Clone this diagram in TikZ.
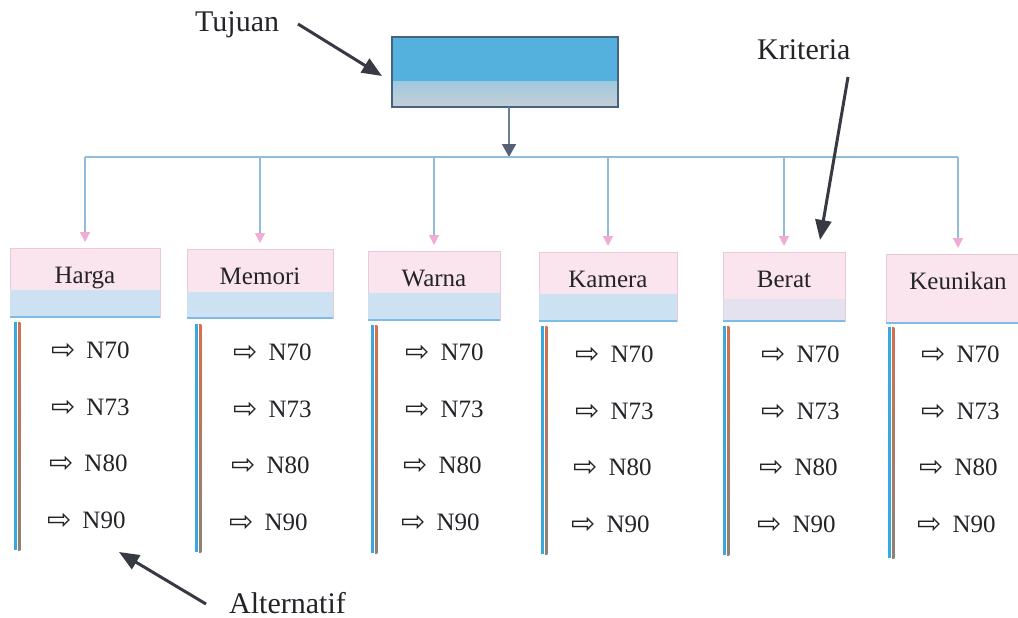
\documentclass[tikz,border=0pt]{standalone}
\usepackage{fontspec}
\setmainfont{Liberation Serif}
\newfontfamily\arrowfont{DejaVu Sans}
\usetikzlibrary{arrows.meta,calc}

\definecolor{goalblue}{RGB}{84,176,220}
\definecolor{goallowA}{RGB}{160,200,222}
\definecolor{goallowB}{RGB}{198,208,214}
\definecolor{goalframe}{RGB}{70,100,130}
\definecolor{critpink}{RGB}{250,228,238}
\definecolor{critedge}{RGB}{236,200,220}
\definecolor{critband}{RGB}{204,225,242}
\definecolor{critline}{RGB}{125,188,230}
\definecolor{busline}{RGB}{145,188,220}
\definecolor{droptip}{RGB}{240,172,214}
\definecolor{stemline}{RGB}{105,128,152}
\definecolor{stemtip}{RGB}{85,98,118}
\definecolor{barblue}{RGB}{58,168,224}
\definecolor{barbrown}{RGB}{140,130,118}
\definecolor{barrust}{RGB}{212,112,78}
\definecolor{inkgrey}{RGB}{55,58,66}
\definecolor{textink}{RGB}{35,35,40}

\newcommand\rarrowglyph{{\arrowfont\fontsize{29}{29}\selectfont\raisebox{-1pt}{⇨}}}

\begin{document}
\begin{tikzpicture}[x=1pt,y=-1pt,
  goalbox/.style={draw=goalframe,line width=1.2pt,fill=goalblue,inner sep=0pt,outer sep=0pt},
  critbox/.style={draw=critedge,line width=0.8pt,fill=critpink,inner sep=0pt,outer sep=0pt},
  critlabel/.style={text=textink,font=\fontsize{25}{29}\selectfont,inner sep=0pt},
  item/.style={text=textink,font=\fontsize{25}{29}\selectfont,inner sep=0pt,anchor=base west},
  note/.style={text=textink,font=\fontsize{30}{34}\selectfont,inner sep=0pt,anchor=base west},
  pointer/.style={draw=inkgrey,line width=3pt,-{Triangle[length=20pt,width=16pt]}},
  stem/.style={draw=stemline,line width=1.8pt,-{Triangle[length=13pt,width=14pt,color=stemtip]}},
  busstyle/.style={draw=busline,line width=1.5pt},
  drop/.style={draw=busline,line width=1.4pt,shorten >=6pt,-{Triangle[length=10pt,width=10pt,color=droptip]}}
]
\useasboundingbox (0,0) rectangle (1018,618);

% goal box at the top
\node[goalbox,minimum width=226pt,minimum height=70pt] (goal) at (505,72) {};
\shade[top color=goallowA,bottom color=goallowB] ([yshift=25pt]goal.south west) rectangle (goal.south east);
\draw[goalframe,line width=1.2pt] (goal.north west) rectangle (goal.south east);

% stem down to the bus
\coordinate (bus) at (509,157);
\draw[stem] (goal.south -| bus) -- (bus);

% criteria columns with their alternatives
\foreach \i/\l/\t/\r/\b/\bh/\bo/\lab/\bx/\bt/\bb/\ax/\ay in {
  1/10/248/160/317/27/1/Harga/14/322/550/51/358,
  2/187/249/333/318/26/1/Memori/195/324/552/233/360,
  3/368/251/500/320/27/1/Warna/371/325/553/405/360,
  4/539/252/677/321/27/1/Kamera/541/326/554/575/362,
  5/723/252/845/321/22/0.45/Berat/723/326/555/761/362,
  6/886/254/1030/323/0/0/Keunikan/888/327/558/921/362}{
  \node[critbox,minimum width={\r-\l},minimum height={\b-\t}] (c\i) at ({(\l+\r)/2},{(\t+\b)/2}) {};
  \fill[critband,fill opacity=\bo] ([yshift=\bh pt]c\i.south west) rectangle (c\i.south east);
  \draw[critline,line width=1.6pt] (c\i.south west) -- (c\i.south east);
  \node[critlabel,anchor=base] (l\i) at ([yshift=-35pt]c\i.north) {\lab};
  \draw[drop] (c\i.north |- bus) -- (c\i.north);
  % double rule along the left side of the list
  \fill[barblue] (\bx,\bt) rectangle ({\bx+2.8},\bb);
  \shade[top color=barrust,bottom color=barbrown] ({\bx+4},\bt) rectangle ({\bx+6.4},\bb);
  \foreach \k/\v/\ry/\rx in {1/70/0/0,2/73/57/0,3/80/113/-2,4/90/170/-4}{
    \node[item] (a\i-\k) at ({\ax+\rx},{\ay+\ry}) {\rarrowglyph\hspace{11pt}N\v};
  }
}

% horizontal bus
\draw[busstyle] (c1.north |- bus) -- (c6.north |- bus);

% annotations
\node[note] (tujuan) at (195,32) {Tujuan};
\node[note] (kriteria) at (757,60) {Kriteria};
\node[note] (alternatif) at (229,613) {Alternatif};
\coordinate (tujuanTail) at (298,24);
\coordinate (tujuanTip) at (382,76);
\coordinate (kriteriaTail) at (848,77);
\coordinate (kriteriaTip) at (820,240);
\coordinate (alternatifTail) at (206,604);
\coordinate (alternatifTip) at (119,552);
\draw[pointer] (tujuanTail) -- (tujuanTip);
\draw[pointer] (kriteriaTail) -- (kriteriaTip);
\draw[pointer] (alternatifTail) -- (alternatifTip);
\end{tikzpicture}
\end{document}
